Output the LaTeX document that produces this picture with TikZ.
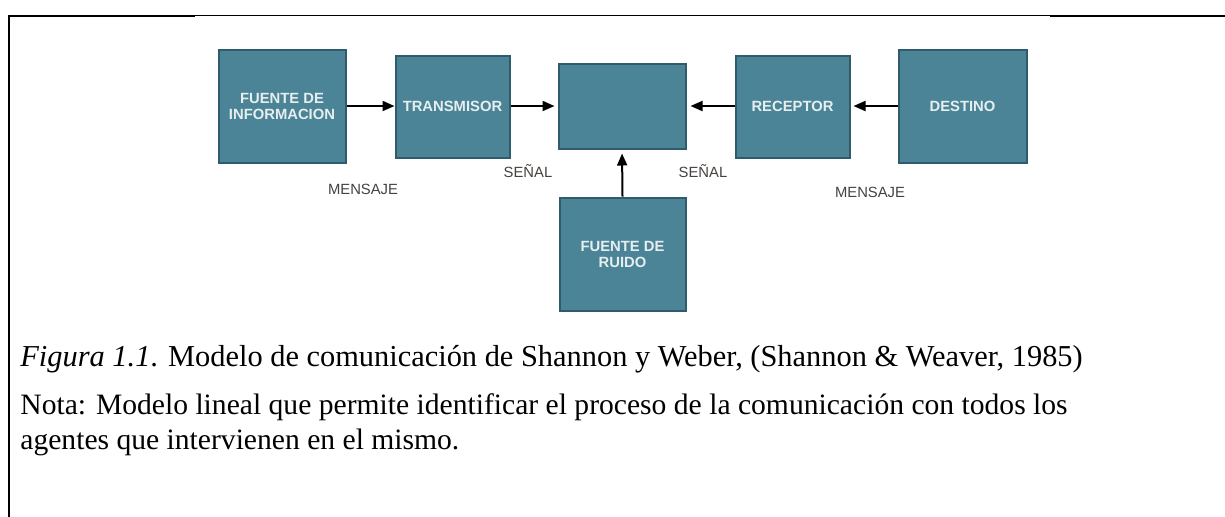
\documentclass[tikz,border=0pt]{standalone}
\usepackage{fontspec}
\setmainfont{Liberation Serif}
\setsansfont{Liberation Sans}
\usetikzlibrary{arrows.meta}
\definecolor{boxfill}{HTML}{4A8496}
\definecolor{boxline}{HTML}{2F5B6B}
\definecolor{boxtext}{HTML}{E6EEF0}
\definecolor{labeltext}{HTML}{46413D}
\tikzset{
  blk/.style={draw=boxline, fill=boxfill, line width=1pt, inner sep=0pt,
    text=boxtext, align=center,
    font=\sffamily\bfseries\fontsize{7.4pt}{8pt}\selectfont},
  lbl/.style={text=labeltext, inner sep=0pt,
    font=\sffamily\fontsize{7.4pt}{8pt}\selectfont},
  conn/.style={line width=1pt, -{Triangle[length=6pt,width=5pt]}},
  frame/.style={line width=1pt, line cap=rect},
  thinframe/.style={line width=0.5pt},
  captxt/.style={inner sep=0pt, anchor=base west, align=left}
}
\begin{document}
\begin{tikzpicture}[x=0.5pt,y=-0.5pt]
\useasboundingbox (0,0) rectangle (1225,516);
% frame
\coordinate (f1) at (9,516);
\coordinate (f2) at (9,15.5);
\coordinate (f3) at (194,15.5);
\coordinate (f4) at (194,15);
\coordinate (f5) at (1051,15);
\coordinate (f6) at (1051,16);
\coordinate (f7) at (1225,16);
\draw[frame] (f1) -- (f2) -- (f3);
\draw[thinframe] (f4) -- (f5);
\draw[frame] (f6) -- (f7);
% blocks
\node[blk, minimum width=63.5pt, minimum height=56.5pt] (fuente) at (282,106) {FUENTE DE\\INFORMACION};
\node[blk, minimum width=57pt, minimum height=51pt] (trans) at (452.5,106.5) {TRANSMISOR};
\node[blk, minimum width=63.5pt, minimum height=42.5pt] (canal) at (622,106) {};
\node[blk, minimum width=57pt, minimum height=51pt] (recep) at (792.5,106.5) {RECEPTOR};
\node[blk, minimum width=64pt, minimum height=56.5pt] (dest) at (962.5,106) {DESTINO};
\node[blk, minimum width=63pt, minimum height=56.5pt] (ruido) at (622.5,254) {FUENTE DE\\RUIDO};
% connectors
\draw[conn] (fuente.east |- 0,106) -- (trans.west |- 0,106);
\draw[conn, shorten >=1.5pt] (trans.east |- 0,106) -- (canal.west |- 0,106);
\draw[conn, shorten >=2pt] (recep.west |- 0,106) -- (canal.east |- 0,106);
\draw[conn, shorten >=1.5pt] (dest.west |- 0,106) -- (recep.east |- 0,106);
\draw[conn, shorten >=2pt] (ruido.north) -- (canal.south);
% labels
\node[lbl] (m1) at (363,189) {MENSAJE};
\node[lbl] (s1) at (528,171) {SEÑAL};
\node[lbl] (s2) at (703,171) {SEÑAL};
\node[lbl] (m2) at (870,192) {MENSAJE};
% caption
\node[captxt, font=\rmfamily\fontsize{15.2pt}{17.5pt}\selectfont] (cap) at (20,366) {\textit{Figura 1.1}. Modelo de comunicación de Shannon y Weber, (Shannon \& Weaver, 1985)};
\node[captxt, font=\rmfamily\fontsize{14.8pt}{17.5pt}\selectfont] (nota) at (20,449) {Nota: Modelo lineal que permite identificar el proceso de la comunicación con todos los\\agentes que intervienen en el mismo.};
\end{tikzpicture}
\end{document}
